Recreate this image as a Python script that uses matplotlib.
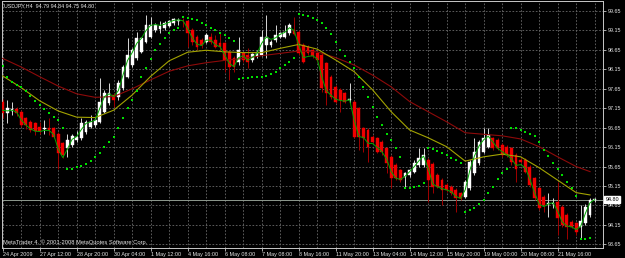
import numpy as np
import matplotlib.pyplot as plt
from matplotlib import font_manager
from matplotlib.transforms import blended_transform_factory


def pick_font(names):
    for n in names:
        try:
            font_manager.findfont(font_manager.FontProperties(family=n),
                                  fallback_to_default=False)
            return n
        except ValueError:
            pass
    return 'DejaVu Sans'


font = pick_font(['Liberation Sans Narrow', 'Liberation Sans'])
fs = 4.6 if font == 'Liberation Sans Narrow' else 3.9
plt.rcParams['font.family'] = [font, 'DejaVu Sans']

# H4 bars, USDJPY 24 Apr - 22 May 2009
opens = [97.32, 97.04, 97.08, 97.12, 97.06, 96.89, 96.80, 96.76, 96.68, 96.62,
         96.63, 96.63, 96.50, 96.25, 96.12, 96.20, 96.33, 96.38, 96.55, 96.68,
         96.72, 96.80, 97.06, 97.29, 97.49, 97.45, 97.66, 97.96, 98.26, 98.43,
         98.60, 98.86, 98.99, 99.16, 99.19, 99.20, 99.27, 99.33, 99.38, 99.40,
         99.38, 99.16, 98.99, 98.90, 98.84, 98.99, 98.90, 98.82, 98.82, 98.60,
         98.43, 98.35, 98.56, 98.52, 98.39, 98.48, 98.52, 98.78, 98.78, 98.90,
         98.99, 98.99, 99.08, 99.16, 99.12, 98.78, 98.73, 98.65, 98.56, 98.52,
         98.30, 97.96, 97.70, 97.62, 97.53, 97.36, 97.32, 97.15, 96.63, 96.59,
         96.42, 96.38, 96.29, 96.12, 95.90, 95.69, 95.56, 95.39, 95.43, 95.52,
         95.69, 95.69, 95.82, 95.71, 95.43, 95.30, 95.18, 95.13, 95.05, 94.96,
         94.88, 95.09, 95.48, 95.73, 96.03, 96.16, 96.38, 96.33, 96.20, 96.16,
         96.12, 95.95, 95.82, 95.82, 95.65, 95.35, 95.09, 94.88, 94.69, 94.69,
         94.75, 94.62, 94.40, 94.23, 94.19, 94.10, 94.19, 94.40, 94.79]
highs = [97.38, 97.36, 97.32, 97.19, 97.10, 96.93, 96.85, 96.80, 96.80, 96.85,
         96.89, 96.68, 96.55, 96.29, 96.50, 96.50, 96.56, 96.89, 96.85, 96.98,
         96.93, 97.92, 97.62, 97.79, 97.53, 97.88, 98.26, 98.95, 98.69, 99.12,
         98.99, 99.55, 99.50, 99.33, 99.38, 99.38, 99.42, 99.48, 99.46, 99.46,
         99.42, 99.20, 99.03, 98.95, 99.08, 99.08, 99.03, 99.08, 98.86, 98.65,
         98.48, 98.99, 98.60, 98.69, 98.56, 98.65, 99.16, 99.55, 98.90, 99.29,
         99.12, 99.29, 99.33, 99.50, 99.16, 98.82, 98.78, 98.69, 98.60, 98.56,
         98.35, 98.00, 97.75, 97.66, 97.58, 97.79, 97.36, 97.19, 96.68, 96.63,
         96.46, 96.42, 96.33, 96.16, 95.95, 95.73, 95.60, 95.52, 95.60, 95.82,
         96.12, 96.12, 95.86, 95.78, 95.48, 95.35, 95.22, 95.18, 95.09, 95.00,
         95.30, 95.82, 96.38, 96.33, 96.63, 96.63, 96.42, 96.38, 96.25, 96.20,
         96.16, 95.99, 95.86, 95.86, 95.69, 95.39, 95.13, 94.92, 94.96, 94.83,
         95.26, 94.66, 94.45, 94.28, 94.23, 94.66, 94.70, 94.83, 94.84]
lows = [96.89, 96.76, 96.98, 96.96, 96.68, 96.62, 96.55, 96.46, 96.50, 96.50,
        96.46, 96.38, 95.60, 95.86, 95.90, 96.16, 96.29, 96.33, 96.50, 96.63,
        96.68, 96.76, 97.02, 97.23, 97.19, 97.36, 97.62, 97.92, 98.22, 98.39,
        98.56, 98.82, 98.95, 99.12, 99.08, 99.16, 99.24, 99.29, 99.29, 99.25,
        98.73, 98.78, 98.65, 98.69, 98.82, 98.79, 98.69, 98.65, 98.09, 97.88,
        98.09, 98.26, 98.35, 98.18, 98.35, 98.43, 98.48, 98.43, 98.73, 98.86,
        98.95, 98.95, 99.03, 99.02, 98.52, 98.30, 98.52, 98.43, 98.35, 97.58,
        97.23, 97.40, 97.28, 97.06, 97.28, 97.28, 96.38, 96.08, 96.03, 95.78,
        96.25, 95.99, 95.95, 95.48, 95.09, 95.30, 95.26, 95.09, 95.39, 95.48,
        95.65, 95.65, 94.75, 94.96, 95.09, 94.66, 95.00, 94.92, 94.49, 94.79,
        94.83, 95.05, 95.43, 95.69, 95.99, 96.12, 96.08, 96.08, 95.90, 95.90,
        95.69, 95.26, 95.73, 95.48, 95.13, 94.79, 94.53, 94.49, 94.36, 94.58,
        93.89, 94.10, 93.80, 94.06, 93.89, 93.80, 94.15, 94.36, 94.75]
closes = [97.02, 97.15, 97.13, 97.02, 96.72, 96.72, 96.59, 96.56, 96.56, 96.65,
          96.59, 96.42, 95.99, 95.95, 96.33, 96.44, 96.42, 96.76, 96.80, 96.80,
          96.86, 97.32, 97.53, 97.53, 97.36, 97.79, 98.22, 98.52, 98.65, 98.95,
          98.95, 99.29, 99.29, 99.29, 99.27, 99.33, 99.38, 99.44, 99.41, 99.38,
          99.08, 98.86, 98.73, 98.78, 99.03, 98.84, 98.73, 98.73, 98.39, 98.22,
          98.22, 98.65, 98.39, 98.35, 98.54, 98.60, 98.99, 98.99, 98.86, 99.03,
          99.08, 99.12, 99.29, 99.05, 98.56, 98.35, 98.56, 98.48, 98.39, 97.66,
          97.53, 97.45, 97.32, 97.36, 97.32, 97.40, 96.42, 96.42, 96.38, 96.16,
          96.29, 96.03, 96.03, 95.73, 95.35, 95.35, 95.30, 95.48, 95.56, 95.73,
          95.86, 95.95, 95.30, 95.13, 95.13, 95.05, 95.05, 94.96, 94.83, 94.83,
          95.26, 95.78, 96.03, 96.29, 96.38, 96.46, 96.12, 96.12, 95.95, 95.95,
          95.78, 95.60, 95.78, 95.52, 95.18, 94.83, 94.58, 94.66, 94.72, 94.72,
          94.32, 94.15, 94.10, 94.10, 93.98, 94.25, 94.62, 94.79, 94.80]

# parabolic SAR dots
sar = [98.24, 97.96, 97.82, 97.75, 97.70, 97.59, 97.47, 97.34, 97.23, 97.13,
       97.04, 96.93, 96.85, 96.63, 95.60, 95.60, 95.63, 95.67, 95.72, 95.79,
       95.89, 96.01, 96.16, 96.29, 96.42, 96.65, 96.89, 97.15, 97.36, 97.59,
       97.94, 98.18, 98.42, 98.65, 98.80, 98.95, 99.08, 99.16, 99.22, 99.50,
       99.48, 99.44, 99.41, 99.35, 99.29, 99.22, 99.16, 99.08, 99.02, 98.95,
       98.88, 97.90, 97.92, 97.93, 97.94, 97.95, 97.96, 97.99, 98.02, 98.09,
       98.18, 98.26, 98.35, 98.43, 99.56, 99.55, 99.51, 99.48, 99.42, 99.33,
       99.22, 99.05, 98.84, 98.65, 98.48, 98.33, 98.18, 97.96, 97.70, 97.45,
       97.19, 96.93, 96.72, 96.50, 96.33, 96.12, 95.90, 95.09, 95.09, 95.12,
       95.15, 95.22, 96.14, 96.10, 96.06, 96.01, 95.95, 95.88, 95.82, 95.73,
       94.49, 94.53, 94.59, 94.68, 94.79, 94.96, 95.13, 95.32, 95.48, 95.60,
       96.65, 96.63, 96.60, 96.55, 96.49, 96.44, 96.29, 96.08, 95.92, 95.75,
       95.60, 95.43, 95.26, 95.09, 94.90, 93.80, 93.80, 93.82, np.nan]

# fast green average
fast_ma = [97.10, 97.08, 97.10, 97.05, 96.85, 96.72, 96.62, 96.56, 96.55, 96.58,
           96.58, 96.48, 96.10, 95.88, 96.10, 96.35, 96.42, 96.60, 96.76, 96.80,
           96.84, 97.15, 97.45, 97.52, 97.45, 97.60, 98.00, 98.38, 98.58, 98.82,
           98.95, 99.15, 99.28, 99.30, 99.28, 99.31, 99.36, 99.41, 99.42, 99.40,
           99.20, 98.95, 98.80, 98.76, 98.90, 98.90, 98.78, 98.73, 98.52, 98.30,
           98.22, 98.45, 98.50, 98.38, 98.46, 98.56, 98.82, 98.98, 98.92, 98.96,
           99.05, 99.10, 99.22, 99.15, 98.78, 98.45, 98.48, 98.50, 98.42, 97.95,
           97.60, 97.48, 97.38, 97.35, 97.33, 97.37, 96.85, 96.42, 96.40, 96.25,
           96.24, 96.14, 96.03, 95.85, 95.52, 95.35, 95.32, 95.40, 95.52, 95.65,
           95.80, 95.92, 95.60, 95.20, 95.13, 95.08, 95.05, 95.00, 94.88, 94.83,
           95.05, 95.55, 95.92, 96.18, 96.34, 96.43, 96.28, 96.12, 96.03, 95.95,
           95.85, 95.68, 95.70, 95.62, 95.32, 94.98, 94.68, 94.62, 94.69, 94.72,
           94.50, 94.22, 94.12, 94.10, 94.03, 94.12, 94.45, 94.72, 94.80]

# slow averages, read every 4 bars
ma_bars = [0, 4, 8, 12, 16, 20, 24, 28, 32, 36, 40, 44, 48, 52, 56, 60, 64,
           68, 72, 76, 80, 84, 88, 92, 96, 100, 104, 108, 112, 116, 120, 124, 127]
ma_yellow = [97.98, 97.68, 97.34, 97.08, 96.92, 96.91, 97.10, 97.49, 97.97, 98.37,
             98.59, 98.64, 98.60, 98.58, 98.58, 98.69, 98.79, 98.67, 98.39, 98.09,
             97.62, 97.06, 96.59, 96.39, 96.16, 95.79, 95.90, 95.97, 95.90, 95.62,
             95.30, 94.98, 94.92]
ma_red = [98.43, 98.21, 97.96, 97.72, 97.52, 97.43, 97.45, 97.65, 97.88, 98.10,
          98.24, 98.32, 98.38, 98.43, 98.50, 98.56, 98.62, 98.60, 98.45, 98.26,
          98.00, 97.70, 97.32, 97.06, 96.80, 96.52, 96.48, 96.44, 96.36, 96.16,
          95.90, 95.65, 95.52]

date_labels = ['24 Apr 2009', '27 Apr 12:00', '28 Apr 20:00', '30 Apr 04:00',
               '1 May 12:00', '4 May 16:00', '6 May 08:00', '7 May 08:00',
               '8 May 16:00', '11 May 20:00', '13 May 04:00', '14 May 12:00',
               '15 May 20:00', '19 May 00:00', '20 May 08:00', '21 May 16:00']
price_ticks = [93.65, 94.15, 94.65, 95.15, 95.65, 96.15, 96.65,
               97.15, 97.65, 98.15, 98.65, 99.15, 99.65]
last_price = 94.80

o = np.array(opens); h = np.array(highs); l = np.array(lows); c = np.array(closes)
x = np.arange(len(c))
up = c >= o

fig = plt.figure(figsize=(6.25, 2.58), dpi=100, facecolor='black')
ax = fig.add_axes([2/625, 10/258, 601/625, 247/258])
ax.set_facecolor('black')
ax.set_axisbelow(True)

# candles
ax.vlines(x[up], l[up], h[up], color='#d8d8d8', lw=0.7, zorder=2)
ax.vlines(x[~up], l[~up], h[~up], color='#a00000', lw=0.7, zorder=2)
body_lo = np.minimum(o, c)
body_h = np.maximum(np.abs(c - o), 0.015)
ax.bar(x[up], body_h[up], bottom=body_lo[up], width=0.62, color='white',
       edgecolor='white', lw=0.3, zorder=3)
ax.bar(x[~up], body_h[~up], bottom=body_lo[~up], width=0.62, color='#f00000',
       edgecolor='#f00000', lw=0.3, zorder=3)

# indicators
ax.plot(ma_bars, ma_red, color='#8e0a0a', lw=0.8, zorder=4)
ax.plot(ma_bars, ma_yellow, color='#a3a300', lw=0.8, zorder=4)
ax.plot(x, fast_ma, color='#00a800', lw=0.7, zorder=4)
ax.scatter(x, sar, marker='s', s=2.2, color='#00e000', linewidths=0, zorder=5)

# current price line + label
ax.axhline(last_price, color='#8f9a8f', lw=0.7, zorder=1.5)
trans = blended_transform_factory(ax.transAxes, ax.transData)
ax.text(1.004, last_price, f'{last_price:.2f}', transform=trans, ha='left', va='center',
        fontsize=fs, color='black', clip_on=False,
        bbox=dict(facecolor='white', edgecolor='white', pad=0.7))

ax.set_xlim(-0.15, 129.8)
ax.set_ylim(93.556, 99.907)

ax.set_xticks(np.arange(0, 129, 4), minor=True)
ax.set_xticks(np.arange(0, 121, 8))
ax.set_xticklabels(date_labels, ha='left')
ax.yaxis.tick_right()
ax.set_yticks(price_ticks)
ax.set_yticklabels([f'{p:.2f}' for p in price_ticks])
ax.grid(which='both', color='#6a6a6a', linestyle=(0, (2, 2)), linewidth=0.6)
ax.tick_params(which='minor', length=0)
ax.tick_params(which='major', length=2, width=0.6, color='#c8c8c8',
               labelcolor='#e6e6e6', labelsize=fs)
ax.tick_params(axis='x', pad=1)
ax.tick_params(axis='y', pad=1.5)
for s in ax.spines.values():
    s.set_color('#c8c8c8')
    s.set_linewidth(0.7)

fig.text(4/625, 1 - 6/258, 'USDJPY,H4  94.79 94.84 94.75 94.80', color='#e6e6e6',
         fontsize=fs, va='center')
fig.text(3/625, 1 - 242.5/258, 'MetaTrader 4, \u00a9 2001-2008 MetaQuotes Software Corp.',
         color='#e6e6e6', fontsize=fs * 1.07, va='center')

fig.savefig('out.png', dpi=100, facecolor='black')
